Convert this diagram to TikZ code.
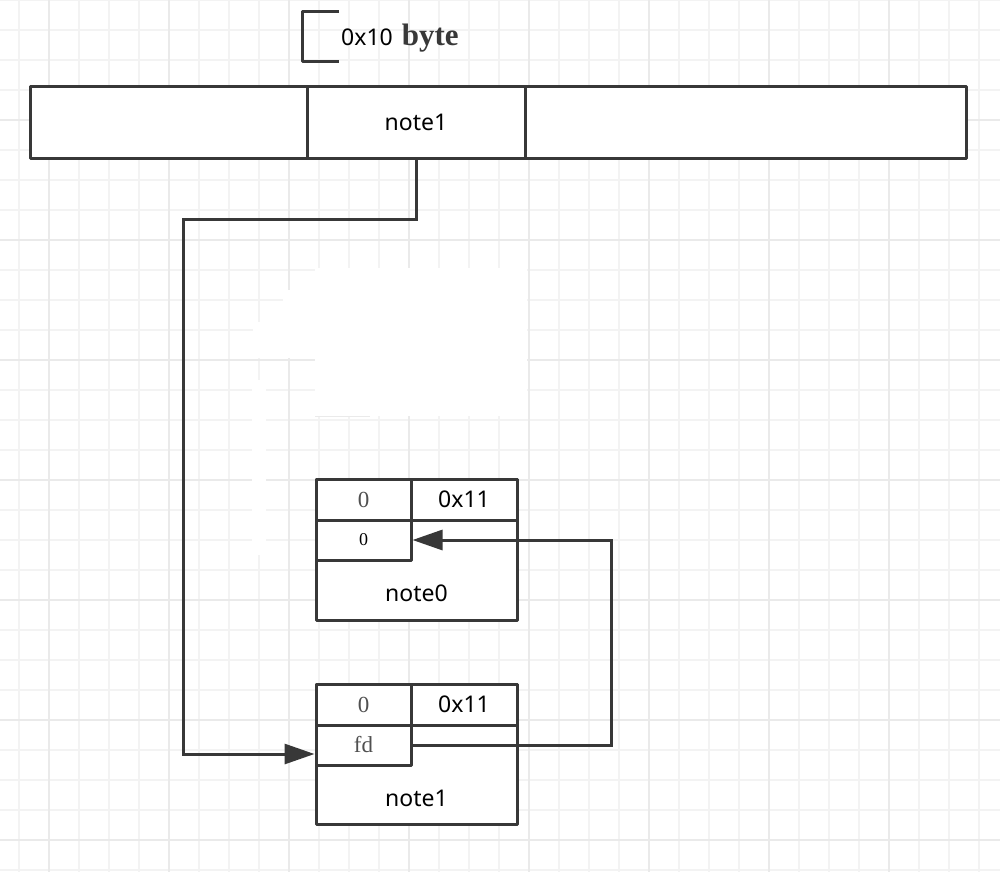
\documentclass[tikz,border=0pt]{standalone}
\usepackage{fontspec}
\setmainfont{Liberation Serif}
\newfontfamily\sansf{Noto Sans}
\usetikzlibrary{arrows.meta}
\definecolor{ink}{HTML}{383838}
\definecolor{gridminor}{HTML}{F3F3F3}
\definecolor{gridmajor}{HTML}{EAEAEA}
\definecolor{gray0}{HTML}{505050}
\tikzset{
  minorline/.style={draw=gridminor, line width=1.6pt},
  majorline/.style={draw=gridmajor, line width=1.6pt},
  cell/.style={draw=ink, line width=3pt, fill=white, rectangle, inner sep=0pt, line join=round},
  plain/.style={inner sep=0pt},
  sanslbl/.style={font=\sansf\fontsize{23}{27}\selectfont, text=black},
  seriflbl/.style={font=\fontsize{23}{27}\selectfont, text=gray0},
  conn/.style={draw=ink, line width=3pt, line join=miter},
  arr/.style={conn, -{Triangle[length=30pt, width=20pt]}},
}
\begin{document}
\begin{tikzpicture}[x=1pt, y=-1pt]
\useasboundingbox (0,0) rectangle (1000,872);
\fill[white] (0,0) rectangle (1000,872);
% grid
\foreach \xx in {19,49,...,999} \draw[minorline] (\xx,0) -- (\xx,872);
\foreach \yy in {0,30,...,870} \draw[minorline] (0,\yy) -- (1000,\yy);
\foreach \xx in {49,169,...,999} \draw[majorline] (\xx,0) -- (\xx,872);
\foreach \yy in {120,240,...,870} \draw[majorline] (0,\yy) -- (1000,\yy);
% erased patch
\fill[white] (315,268) rectangle (527,416);
\fill[white] (283,290) rectangle (315,322);
\fill[white] (253,322) rectangle (315,358);
\fill[white] (252,380) rectangle (266,555);
\draw[draw=gridmajor, line width=1pt] (315,416) -- (370,416);

% bracket and size label
\draw[ink, line width=3pt, line join=round] (339,12) -- (302,12) -- (302,62) -- (339,62);
\node[plain, anchor=west] (size) at (341,38) {{\sansf\fontsize{23}{27}\selectfont\color{black}0x10}\hspace{9pt}{\bfseries\fontsize{31}{36}\selectfont\color{ink}byte}};

% top bar
\node[cell, minimum width=277pt, minimum height=71pt] (topl) at (168.5,122.5) {};
\node[cell, minimum width=218pt, minimum height=71pt, sanslbl] (topm) at (416,122.5) {note1};
\node[cell, minimum width=441pt, minimum height=71pt] (topr) at (745.5,122.5) {};

% note0 chunk
\node[cell, minimum width=201pt, minimum height=141pt] (n0) at (416.5,549.5) {};
\node[cell, minimum width=95pt, minimum height=41pt, seriflbl] (a0) at (363.5,499.5) {0};
\node[cell, minimum width=106pt, minimum height=41pt, sanslbl] (b0) at (464,499.5) {0x11};
\node[cell, minimum width=95pt, minimum height=40pt, font=\fontsize{18}{21}\selectfont, text=black] (z0) at (363.5,540) {\raisebox{-4pt}{0}};
\node[plain, sanslbl] (l0) at (416.5,593) {note0};

% note1 chunk
\node[cell, minimum width=201pt, minimum height=140pt] (n1) at (416.5,754) {};
\node[cell, minimum width=95pt, minimum height=41pt, seriflbl] (a1) at (363.5,704.5) {0};
\node[cell, minimum width=106pt, minimum height=41pt, sanslbl] (b1) at (464,704.5) {0x11};
\node[cell, minimum width=95pt, minimum height=40pt, seriflbl] (fd) at (363.5,745) {fd};
\node[plain, sanslbl] (l1) at (416.5,798) {note1};

% connectors
\coordinate (c1) at (183,219);
\coordinate (c2) at (611,540);
\draw[arr] (topm.south) |- (c1) |- (n1.west);
\draw[arr] (fd.east) -| (c2) -- (z0.east);
\end{tikzpicture}
\end{document}
